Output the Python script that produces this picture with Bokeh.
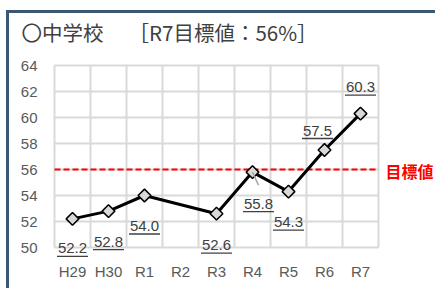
import numpy as np
from bokeh.plotting import figure
from bokeh.models import Range1d, FixedTicker, ColumnDataSource
from bokeh.embed import file_html
from bokeh.resources import INLINE
from bokeh.core.properties import value

# ---- data ----
categories = ["H29", "H30", "R1", "R2", "R3", "R4", "R5", "R6", "R7"]
rates = [52.2, 52.8, 54.0, None, 52.6, 55.8, 54.3, 57.5, 60.3]
target = 56
y_ticks = [50, 52, 54, 56, 58, 60, 62, 64]
title_text = "〇中学校　 ［R7目標値：56%］"
target_label = "目標値"

# ---- layout (label offsets in px: dx right, baseline dy down) ----
label_dx = [0, 0, 0, 0, 0, 6, 0, -7, 0]
label_dy = [35, 36, 36, 0, 37, 37, 36, -14, -21]

NCAT = len(categories)
PX_X = 36.0            # px per category
PX_Y = 13.0            # px per y unit
Y0, Y1 = y_ticks[0], y_ticks[-1]
BORDER = 3
MARGIN_L, MARGIN_T = 6, 10
CANVAS_X = MARGIN_L + BORDER          # page x of canvas left
CANVAS_Y = MARGIN_T + BORDER          # page y of canvas top
W, H = 438 - CANVAS_X, 291 - CANVAS_Y
PLOT_LEFT, PLOT_TOP, PLOT_BOTTOM = 54, 65, 260   # page px of category 0 / value 64 / frame bottom
MIN_L, MIN_B = 3, 291 - PLOT_BOTTOM
X_LO = -(PLOT_LEFT - CANVAS_X - MIN_L) / PX_X
X_HI = X_LO + (W - MIN_L) / PX_X
Y_HI = Y1 + (PLOT_TOP - CANVAS_Y) / PX_Y
Y_LO = Y1 - (PLOT_BOTTOM - PLOT_TOP) / PX_Y

NUM_FONT = "Liberation Sans"
JP_FONT = "Noto Sans CJK JP"

idx = [i for i, v in enumerate(rates) if v is not None]
xs = [i + 0.5 for i in idx]
ys = [rates[i] for i in idx]
labels = [f"{rates[i]:.1f}" for i in idx]
dxs = [label_dx[i] for i in idx]
dys = [label_dy[i] - 5.5 for i in idx]

src = ColumnDataSource(dict(x=xs, y=ys, t=labels, dx=dxs, dy=dys,
                            ux=[x + d / PX_X for x, d in zip(xs, dxs)],
                            uy=[rates[i] - (label_dy[i] + 2.5) / PX_Y for i in idx]))

p = figure(width=W, height=H, title=None,
           x_range=Range1d(X_LO, X_HI), y_range=Range1d(Y_LO, Y_HI),
           output_backend="svg", toolbar_location=None,
           min_border_left=MIN_L, min_border_right=0,
           min_border_top=0, min_border_bottom=MIN_B)
p.styles = {"border-top": f"{BORDER}px solid #3b5775",
            "border-left": f"{BORDER}px solid #3b5775",
            "margin-left": f"{MARGIN_L}px", "margin-top": f"{MARGIN_T}px"}
p.background_fill_color = "white"
p.border_fill_color = "white"
p.outline_line_color = None
p.xgrid.visible = False
p.ygrid.visible = False

# manual grid over the plot area
p.segment(x0=[0] * len(y_ticks), y0=y_ticks, x1=[NCAT] * len(y_ticks), y1=y_ticks,
          line_color="#d9d9d9", line_width=2)
p.segment(x0=list(range(NCAT + 1)), y0=[Y0] * (NCAT + 1),
          x1=list(range(NCAT + 1)), y1=[Y1] * (NCAT + 1),
          line_color="#d9d9d9", line_width=2)

# axes
p.yaxis.ticker = FixedTicker(ticks=y_ticks)
p.xaxis.ticker = FixedTicker(ticks=[i + 0.5 for i in range(NCAT)])
p.xaxis.major_label_overrides = {i + 0.5: c for i, c in enumerate(categories)}
for ax in (p.xaxis, p.yaxis):
    ax.axis_line_color = None
    ax.major_tick_line_color = None
    ax.minor_tick_line_color = None
    ax.major_tick_out = 0
    ax.major_tick_in = 0
    ax.major_label_text_font = NUM_FONT
    ax.major_label_text_font_size = "15px"
    ax.major_label_text_color = "#595959"
# y labels sit to the right of the (frame-edge) axis, right edge at page x=37
p.yaxis.major_label_standoff = -(37 - CANVAS_X - MIN_L)
p.xaxis.major_label_standoff = 2

# title
p.text(x=[0], y=[Y1], text=[title_text], x_offset=21 - PLOT_LEFT, y_offset=-(PLOT_TOP - 31.5),
       text_font=value(JP_FONT), text_font_size="20.5px", text_color="#404040",
       text_baseline="middle", text_align="left")

# target line
p.segment(x0=[0], y0=[target], x1=[NCAT], y1=[target],
          line_color="#ff0000", line_width=2, line_dash="6 3")
p.text(x=[NCAT], y=[target], text=[target_label], x_offset=7, y_offset=1,
       text_font=value(JP_FONT), text_font_size="16px", text_font_style="bold",
       text_color="#ff0000", text_baseline="middle", text_align="left")

# series
p.line("x", "y", source=src, line_color="black", line_width=3)
p.scatter("x", "y", source=src, marker="square", angle=np.pi / 4, size=9,
          fill_color="#d9d9d9", line_color="black", line_width=1.5)

# leader line for R4 label
r4 = categories.index("R4")
p.segment(x0=[r4 + 0.5], y0=[rates[r4]], x1=[r4 + 0.5 + 6 / PX_X], y1=[rates[r4] - 13 / PX_Y],
          line_color="#a6a6a6", line_width=1.5)

# data labels with underline
p.text("x", "y", text="t", source=src, x_offset="dx", y_offset="dy",
       text_align="center", text_baseline="middle",
       text_font=value(NUM_FONT), text_font_size="15px", text_color="#404040")
p.rect("ux", "uy", width=31, height=1.3, width_units="screen", height_units="screen",
       source=src, fill_color="#404040", line_color=None)

open("out.html", "w").write(file_html(p, INLINE))
